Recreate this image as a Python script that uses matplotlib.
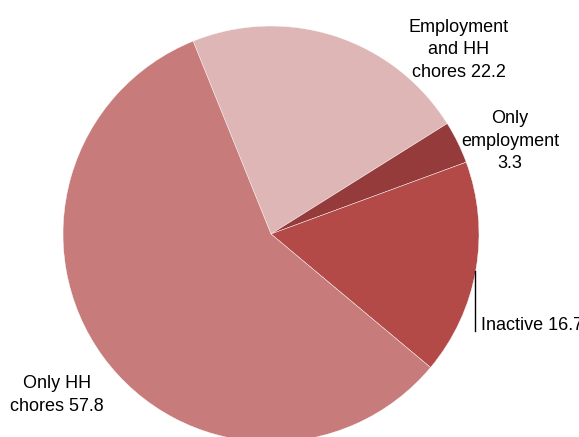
import matplotlib.pyplot as plt

plt.rcParams['font.family'] = ['Liberation Sans', 'DejaVu Sans']

# shares of women by activity status (%)
labels = ['Employment\nand HH\nchores 22.2', 'Only\nemployment\n3.3', 'Inactive 16.7', 'Only HH\nchores 57.8']
shares = [22.2, 3.3, 16.7, 57.8]
colors = ['#DEB6B6', '#953B3B', '#B34A48', '#C77C7B']

W, H = 579, 437
fig = plt.figure(figsize=(W / 100, H / 100), dpi=100)
ax = fig.add_axes([0, 0, 1, 1])

ax.pie(shares, colors=colors, startangle=112, counterclock=False,
       center=(271, H - 234), radius=208,
       wedgeprops=dict(edgecolor='white', linewidth=0.3))
ax.set_xlim(0, W)
ax.set_ylim(0, H)
ax.set_aspect('auto')
ax.axis('off')

fs = 13
ax.text(459, H - 50, labels[0], ha='center', va='center', fontsize=fs, linespacing=1.4)
ax.text(510, H - 141, labels[1], ha='center', va='center', fontsize=fs, linespacing=1.4)
ax.text(481, H - 325, labels[2], ha='left', va='center', fontsize=fs)
ax.text(57, H - 395, labels[3], ha='center', va='center', fontsize=fs, linespacing=1.4)

# leader line for the inactive slice
ax.plot([475, 475], [H - 271, H - 331], color='black', lw=1)

fig.savefig('out.png', dpi=100)
